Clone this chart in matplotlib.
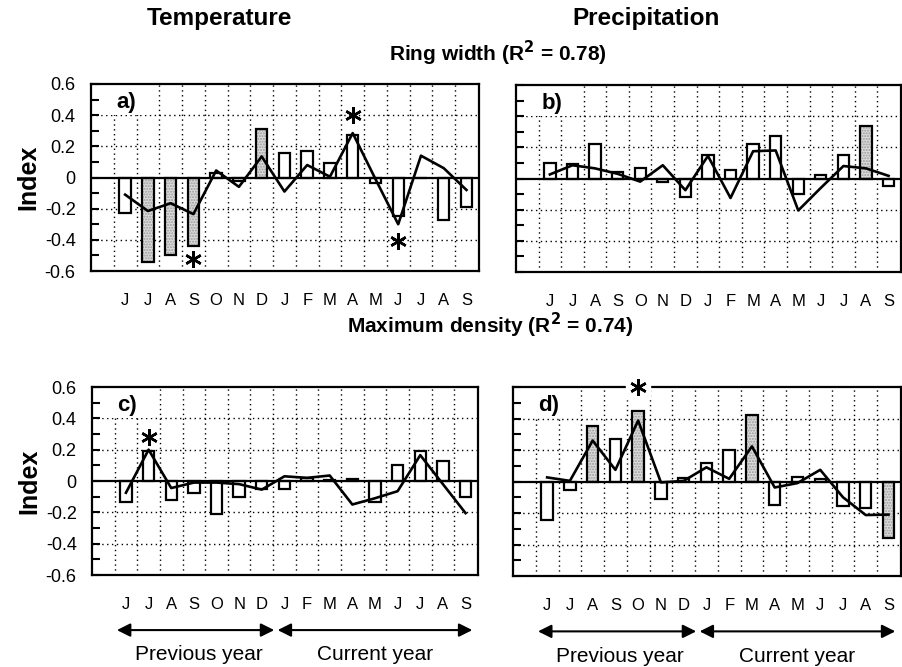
import numpy as np
import matplotlib
matplotlib.use("Agg")
import matplotlib.pyplot as plt
from matplotlib import font_manager
from matplotlib.patches import Rectangle
from matplotlib.transforms import blended_transform_factory

# month labels: June-December previous year, January-September current year
MONTHS = ["J", "J", "A", "S", "O", "N", "D", "J", "F", "M", "A", "M", "J", "J", "A", "S"]
YTICKS = [-0.6, -0.4, -0.2, 0, 0.2, 0.4, 0.6]
YTICK_LABELS = ["-0.6", "-0.4", "-0.2", "0", "0.2", "0.4", "0.6"]

# a) ring width vs temperature
TEMP_RW_BARS = [-0.23, -0.54, -0.50, -0.44, 0.03, -0.02, 0.31, 0.16, 0.17, 0.09, 0.275, -0.035, -0.25, 0.0, -0.27, -0.19]
TEMP_RW_LINE = [-0.11, -0.215, -0.165, -0.235, 0.045, -0.06, 0.135, -0.09, 0.08, 0.005, 0.285, -0.01, -0.30, 0.14, 0.06, -0.08]
TEMP_RW_SHADED = [1, 2, 3, 6]
TEMP_RW_STARS = [(3, -0.52), (10, 0.40), (12, -0.41)]

# b) ring width vs precipitation
PREC_RW_BARS = [0.10, 0.09, 0.22, 0.04, 0.065, -0.02, -0.12, 0.15, 0.055, 0.22, 0.27, -0.10, 0.02, 0.15, 0.34, -0.045]
PREC_RW_LINE = [0.026, 0.085, 0.065, 0.03, -0.02, 0.085, -0.075, 0.145, -0.125, 0.175, 0.18, -0.205, -0.06, 0.08, 0.065, 0.017]
PREC_RW_SHADED = [14]
PREC_RW_STARS = []

# c) maximum density vs temperature
TEMP_MD_BARS = [-0.135, 0.19, -0.12, -0.075, -0.21, -0.10, -0.05, -0.05, 0.02, 0.005, 0.015, -0.135, 0.10, 0.19, 0.13, -0.10]
TEMP_MD_LINE = [-0.075, 0.20, -0.045, -0.01, -0.01, -0.02, -0.055, 0.03, 0.02, 0.035, -0.15, -0.11, -0.065, 0.165, -0.02, -0.205]
TEMP_MD_SHADED = []
TEMP_MD_STARS = [(1, 0.28)]

# d) maximum density vs precipitation
PREC_MD_BARS = [-0.245, -0.053, 0.35, 0.27, 0.45, -0.113, 0.025, 0.117, 0.198, 0.42, -0.15, 0.028, 0.017, -0.153, -0.17, -0.36]
PREC_MD_LINE = [0.026, 0.004, 0.26, 0.074, 0.387, -0.006, 0.004, 0.09, 0.017, 0.223, -0.038, -0.01, 0.074, -0.10, -0.213, -0.21]
PREC_MD_SHADED = [2, 4, 9, 15]
PREC_MD_STARS = [(4, 0.6)]

# pick a narrow font if there is one
names = {f.name for f in font_manager.fontManager.ttflist}
NARROW = "Liberation Sans Narrow" if "Liberation Sans Narrow" in names else "Liberation Sans"
plt.rcParams["font.family"] = ["Liberation Sans", "DejaVu Sans"]

DOT = (0, (1, 2.5))


def draw_panel(ax, bars, line, shaded, stars, letter, show_ylabels):
    x = np.arange(len(MONTHS))
    bars = np.array(bars)
    ax.set_xlim(-1.5, 15.55)
    ax.set_ylim(-0.6, 0.6)

    # dotted grid
    for b in x - 0.5:
        ax.axvline(b, color="black", lw=1.0, ls=DOT, zorder=1)
    for t in YTICKS[1:-1]:
        if t != 0:
            ax.axhline(t, color="black", lw=1.0, ls=DOT, zorder=1)
    # white patch behind the panel letter
    ax.add_patch(Rectangle((0, 0.835), 0.155, 0.165, transform=ax.transAxes,
                           fc="white", ec="none", zorder=1.2))
    ax.text(0.066, 0.9, letter, transform=ax.transAxes, fontsize=16,
            fontweight="bold", ha="left", va="center", zorder=1.3)

    colors = ["#dcdcdc" if i in shaded else "white" for i in x]
    ax.bar(x, bars, width=0.5, color=colors, edgecolor="none", zorder=3)
    if shaded:
        ax.bar(x[shaded], bars[shaded], width=0.5, color="none",
               edgecolor="#9a9a9a", hatch="......", linewidth=0, zorder=3.1)
    ax.bar(x, bars, width=0.5, fill=False, edgecolor="black", linewidth=1.6, zorder=3.2)
    ax.axhline(0, color="black", lw=1.6, zorder=3.5)
    ax.plot(x, line, color="black", lw=1.9, zorder=4)

    for sx, sy in stars:
        if abs(sy) >= 0.6:
            ax.plot(sx, sy, marker="s", ms=17, color="white", mec="white",
                    zorder=5, clip_on=False)
        ax.plot(sx, sy, marker=(6, 2, 0), ms=12, mew=1.8, color="black",
                zorder=6, clip_on=False)

    ax.set_xticks(x)
    ax.set_xticklabels(MONTHS, fontsize=12)
    ax.tick_params(axis="x", length=0, pad=16)
    ax.set_yticks(YTICKS)
    ax.set_yticklabels(YTICK_LABELS if show_ylabels else [], fontsize=13)
    ax.set_yticks(np.arange(-0.5, 0.6, 0.2), minor=True)
    ax.tick_params(axis="y", which="both", direction="in", length=6, width=1.5,
                   pad=11, left=True, right=False)
    for s in ax.spines.values():
        s.set_linewidth(1.6)
    if show_ylabels:
        ax.set_ylabel("Index", fontsize=18, fontweight="bold", labelpad=3)


def draw_arrows(ax):
    tr = blended_transform_factory(ax.transData, ax.transAxes)
    style = dict(arrowstyle="<|-|>,head_length=0.8,head_width=0.4", color="black",
                 lw=1.5, shrinkA=0, shrinkB=0)
    ax.annotate("", xy=(6.55, -0.293), xytext=(-0.4, -0.293), xycoords=tr,
                textcoords=tr, arrowprops=style, annotation_clip=False)
    ax.annotate("", xy=(15.3, -0.293), xytext=(6.7, -0.293), xycoords=tr,
                textcoords=tr, arrowprops=style, annotation_clip=False)
    ax.text(3.2, -0.425, "Previous year", transform=tr, ha="center", va="center",
            fontsize=15, family=NARROW)
    ax.text(11.0, -0.425, "Current year", transform=tr, ha="center", va="center",
            fontsize=15, family=NARROW)


def plot():
    W, H = 902, 667
    fig = plt.figure(figsize=(W / 100, H / 100), dpi=100)

    def box(left, right, top, bottom):
        return [left / W, 1 - bottom / H, (right - left) / W, (bottom - top) / H]

    ax_a = fig.add_axes(box(91, 479, 84, 271))
    ax_b = fig.add_axes(box(516, 901, 85, 272))
    ax_c = fig.add_axes(box(92, 478, 387, 575))
    ax_d = fig.add_axes(box(513, 901, 387, 576))

    draw_panel(ax_a, TEMP_RW_BARS, TEMP_RW_LINE, TEMP_RW_SHADED, TEMP_RW_STARS, "a)", True)
    draw_panel(ax_b, PREC_RW_BARS, PREC_RW_LINE, PREC_RW_SHADED, PREC_RW_STARS, "b)", False)
    draw_panel(ax_c, TEMP_MD_BARS, TEMP_MD_LINE, TEMP_MD_SHADED, TEMP_MD_STARS, "c)", True)
    draw_panel(ax_d, PREC_MD_BARS, PREC_MD_LINE, PREC_MD_SHADED, PREC_MD_STARS, "d)", False)
    draw_arrows(ax_c)
    draw_arrows(ax_d)

    fig.text(219 / W, 1 - 19 / H, "Temperature", ha="center", va="center",
             fontsize=17.5, fontweight="bold", family=NARROW)
    fig.text(646 / W, 1 - 19 / H, "Precipitation", ha="center", va="center",
             fontsize=17.5, fontweight="bold", family=NARROW)
    fig.text(498 / W, 1 - 53 / H, "Ring width (R$^{\\mathbf{2}}$ = 0.78)", ha="center",
             va="center", fontsize=15, fontweight="bold", family=NARROW)
    fig.text(490 / W, 1 - 325 / H, "Maximum density (R$^{\\mathbf{2}}$ = 0.74)", ha="center",
             va="center", fontsize=15, fontweight="bold", family=NARROW)

    fig.savefig("out.png", dpi=100)


if __name__ == "__main__":
    plot()
